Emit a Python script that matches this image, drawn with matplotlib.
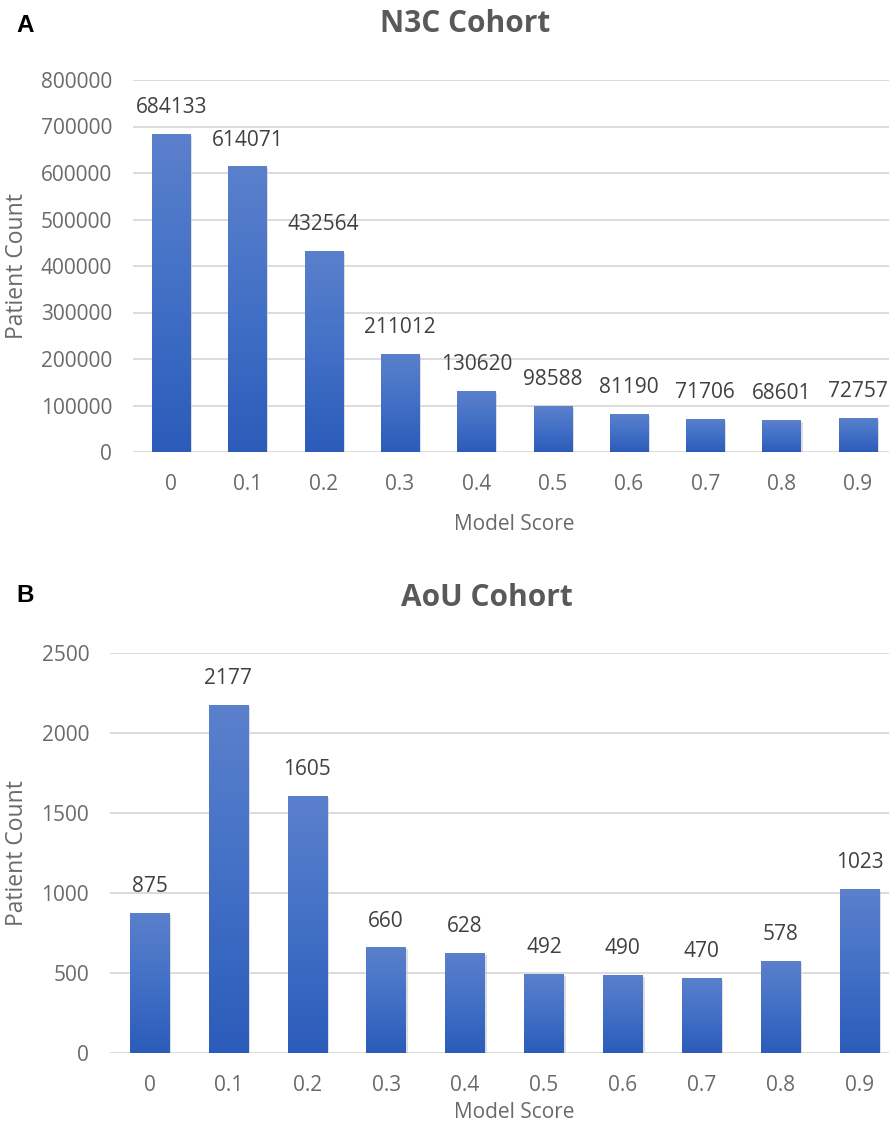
import numpy as np
import matplotlib
matplotlib.use("Agg")
import matplotlib.pyplot as plt
from matplotlib.colors import LinearSegmentedColormap

plt.rcParams['font.family'] = ['Open Sans', 'DejaVu Sans']

categories = ["0", "0.1", "0.2", "0.3", "0.4", "0.5", "0.6", "0.7", "0.8", "0.9"]
n3c_counts = [684133, 614071, 432564, 211012, 130620, 98588, 81190, 71706, 68601, 72757]
aou_counts = [875, 2177, 1605, 660, 628, 492, 490, 470, 578, 1023]

TICK_GRAY = "#6A6A6A"
TITLE_GRAY = "#595959"
cmap = LinearSegmentedColormap.from_list("barfill", ["#2C5BBA", "#4270C6", "#5B80CC"])

W, H = 889, 1134
fig = plt.figure(figsize=(W / 100, H / 100), dpi=100)


def panel(left_px, right_px, top_px, bottom_px, values, ymax, step,
          title, title_xy, letter, letter_xy, xlabel_y):
    rect = [left_px / W, 1 - bottom_px / H, (right_px - left_px) / W,
            (bottom_px - top_px) / H]
    ax = fig.add_axes(rect)
    x = np.arange(len(categories))
    # subtle shadow
    ax.bar(x + 0.025, values, width=0.5, color="#c8c8c8", alpha=0.6, zorder=2,
           bottom=-ymax * 0.005)
    bars = ax.bar(x, values, width=0.5, color="#4472C4", zorder=3)
    grad = np.linspace(0, 1, 256).reshape(-1, 1)
    for b in bars:
        x0, y0 = b.get_x(), b.get_y()
        w, h = b.get_width(), b.get_height()
        im = ax.imshow(grad, cmap=cmap, aspect="auto", origin="lower",
                       extent=(x0, x0 + w, y0, y0 + h), zorder=4)
        im.set_clip_path(b)
    for xi, v in zip(x, values):
        ax.annotate(f"{v}", (xi, v), xytext=(0, 15), textcoords="offset points",
                    ha="center", va="baseline", fontsize=15, color="#404040",
                    zorder=5)
    ax.set_xlim(-0.5, len(categories) - 0.5)
    ax.set_ylim(0, ymax)
    ticks = np.arange(0, ymax + step / 2, step)
    ax.set_yticks(ticks)
    ax.set_yticklabels([f"{int(t)}" for t in ticks])
    ax.set_xticks(x)
    ax.set_xticklabels(categories)
    ax.grid(axis="y", color="#D9D9D9", linewidth=1.3, zorder=0)
    ax.set_axisbelow(True)
    for s in ax.spines.values():
        s.set_visible(False)
    ax.tick_params(axis="both", length=0, labelsize=15, labelcolor=TICK_GRAY)
    ax.tick_params(axis="x", pad=16)
    ax.tick_params(axis="y", pad=15)
    fig.text(514 / W, 1 - xlabel_y / H,
             "Model Score", ha="center", va="center", fontsize=15, color=TICK_GRAY)
    fig.text(17 / W, 1 - (top_px + bottom_px) / 2 / H, "Patient Count",
             rotation=90, ha="center", va="center", fontsize=16.5, color=TICK_GRAY)
    fig.text(title_xy[0] / W, 1 - title_xy[1] / H, title, ha="center", va="center",
             fontsize=21.5, fontweight="bold", color=TITLE_GRAY)
    fig.text(letter_xy[0] / W, 1 - letter_xy[1] / H, letter, ha="left", va="center",
             fontsize=17.5, fontweight="bold", color="black",
             family=["Liberation Sans", "DejaVu Sans"])
    return ax


panel(133, 896, 80, 452, n3c_counts, 800000, 100000,
      "N3C Cohort", (465, 24), "A", (16, 25), 524)
panel(110, 899, 653, 1053, aou_counts, 2500, 500,
      "AoU Cohort", (487, 598), "B", (16, 596), 1112)

fig.savefig("out.png", dpi=100)
